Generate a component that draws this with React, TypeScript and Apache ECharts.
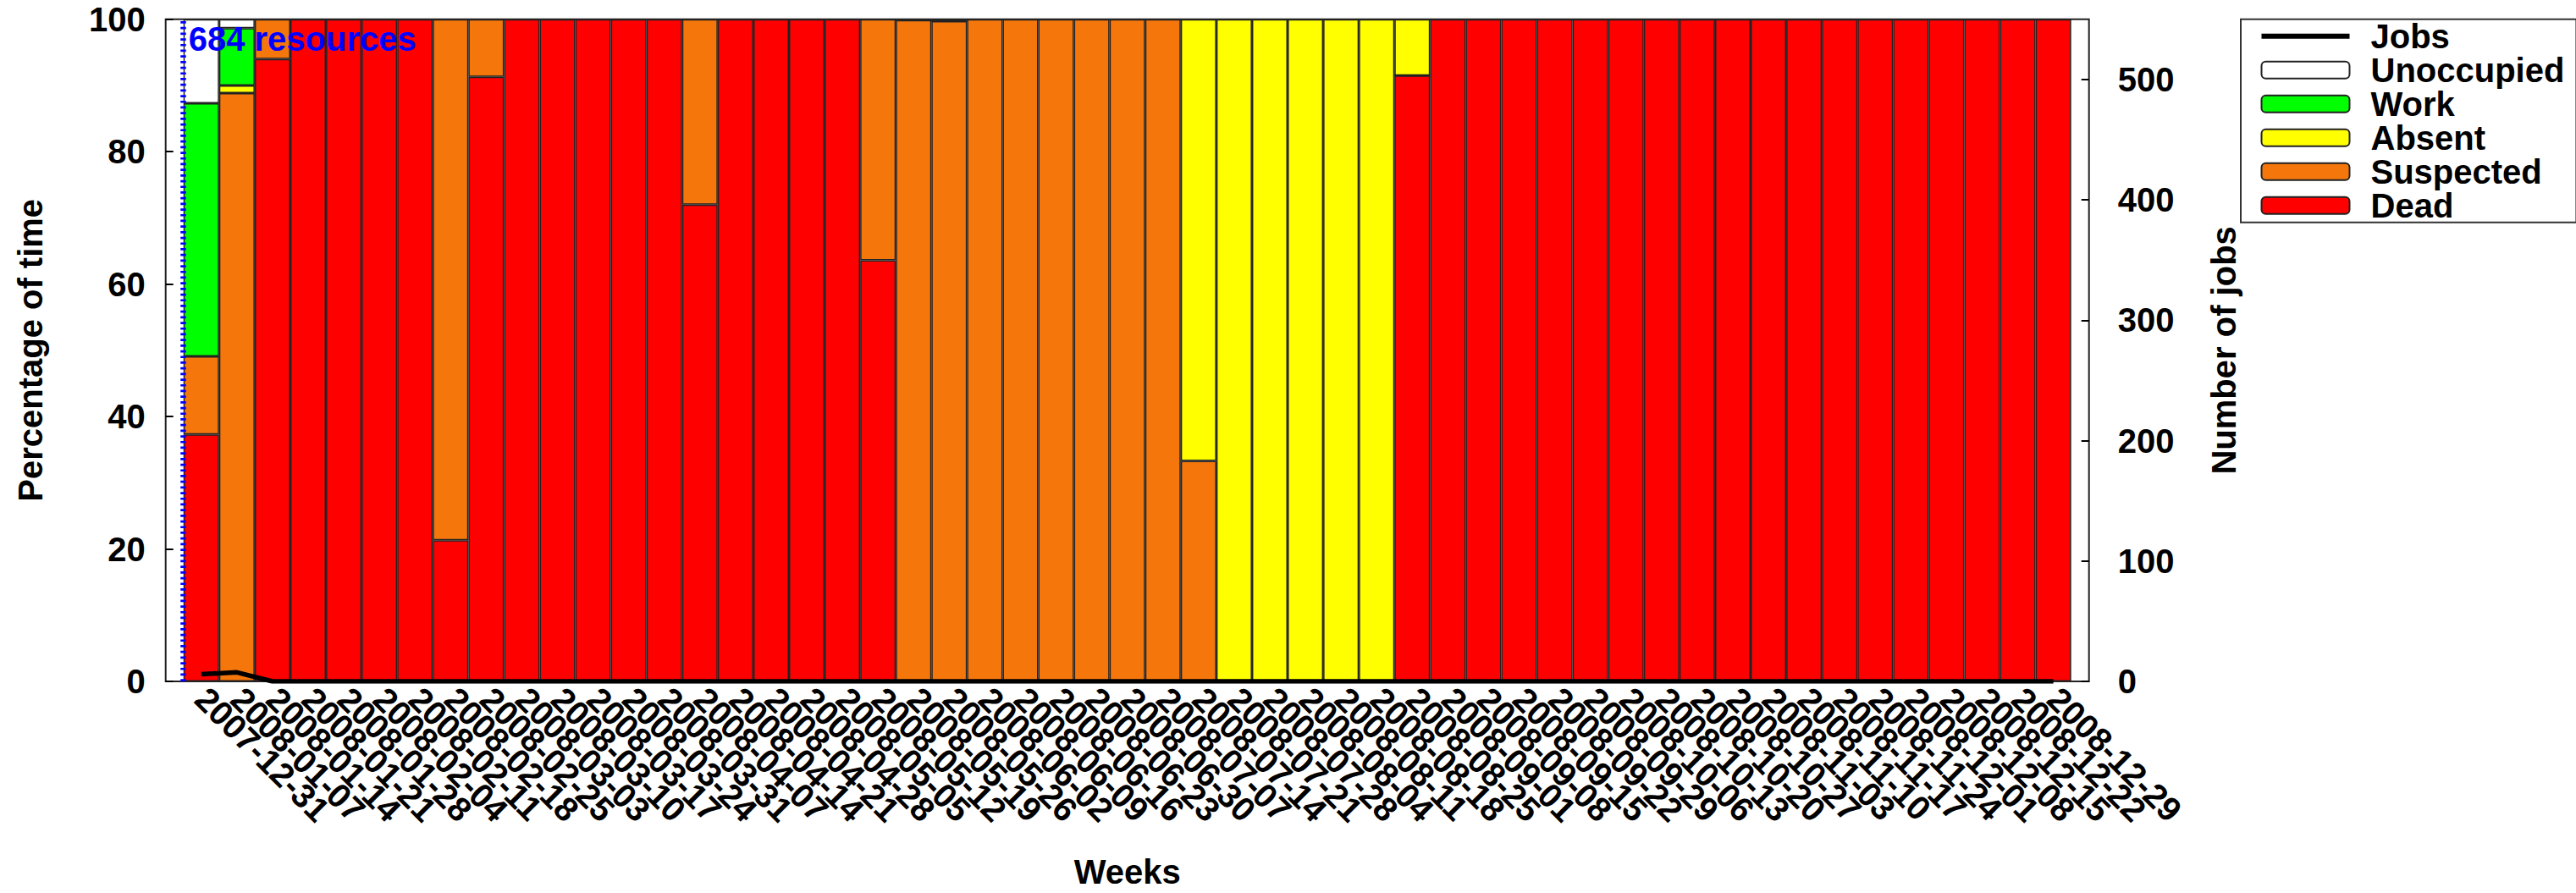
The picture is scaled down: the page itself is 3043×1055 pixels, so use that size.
import React, { useEffect, useRef } from 'react';
import * as echarts from 'echarts';

const weeks = [
  '2007-12-31', '2008-01-07', '2008-01-14', '2008-01-21', '2008-01-28', '2008-02-04', '2008-02-11',
  '2008-02-18', '2008-02-25', '2008-03-03', '2008-03-10', '2008-03-17', '2008-03-24', '2008-03-31',
  '2008-04-07', '2008-04-14', '2008-04-21', '2008-04-28', '2008-05-05', '2008-05-12', '2008-05-19',
  '2008-05-26', '2008-06-02', '2008-06-09', '2008-06-16', '2008-06-23', '2008-06-30', '2008-07-07',
  '2008-07-14', '2008-07-21', '2008-07-28', '2008-08-04', '2008-08-11', '2008-08-18', '2008-08-25',
  '2008-09-01', '2008-09-08', '2008-09-15', '2008-09-22', '2008-09-29', '2008-10-06', '2008-10-13',
  '2008-10-20', '2008-10-27', '2008-11-03', '2008-11-10', '2008-11-17', '2008-11-24', '2008-12-01',
  '2008-12-08', '2008-12-15', '2008-12-22', '2008-12-29',
];

const dead = [
  37.3, 0, 94.0, 100, 100, 100, 100, 21.3, 91.3, 100, 100, 100, 100, 100,
  72.0, 100, 100, 100, 100, 63.6, 0, 0, 0, 0, 0, 0, 0, 0,
  0, 0, 0, 0, 0, 0, 91.5, 100, 100, 100, 100, 100, 100, 100,
  100, 100, 100, 100, 100, 100, 100, 100, 100, 100, 100,
];

const suspected = [
  11.8, 88.85, 6.0, 0, 0, 0, 0, 78.7, 8.7, 0, 0, 0, 0, 0,
  28.0, 0, 0, 0, 0, 36.4, 99.85, 99.7, 100, 100, 100, 100, 100, 100,
  33.3, 0, 0, 0, 0, 0, 0, 0, 0, 0, 0, 0, 0, 0,
  0, 0, 0, 0, 0, 0, 0, 0, 0, 0, 0,
];

const absent = [
  0, 1.15, 0, 0, 0, 0, 0, 0, 0, 0, 0, 0, 0, 0,
  0, 0, 0, 0, 0, 0, 0, 0, 0, 0, 0, 0, 0, 0,
  66.7, 100, 100, 100, 100, 100, 8.5, 0, 0, 0, 0, 0, 0, 0,
  0, 0, 0, 0, 0, 0, 0, 0, 0, 0, 0,
];

const work = [
  38.2, 8.64, 0, 0, 0, 0, 0, 0, 0, 0, 0, 0, 0, 0,
  0, 0, 0, 0, 0, 0, 0, 0, 0, 0, 0, 0, 0, 0,
  0, 0, 0, 0, 0, 0, 0, 0, 0, 0, 0, 0, 0, 0,
  0, 0, 0, 0, 0, 0, 0, 0, 0, 0, 0,
];

const unoccupied = [
  12.7, 1.36, 0, 0, 0, 0, 0, 0, 0, 0, 0, 0, 0, 0,
  0, 0, 0, 0, 0, 0, 0.15, 0.3, 0, 0, 0, 0, 0, 0,
  0, 0, 0, 0, 0, 0, 0, 0, 0, 0, 0, 0, 0, 0,
  0, 0, 0, 0, 0, 0, 0, 0, 0, 0, 0,
];

const jobs = [
  6, 7.5, 0, 0, 0, 0, 0, 0, 0, 0, 0, 0, 0, 0,
  0, 0, 0, 0, 0, 0, 0, 0, 0, 0, 0, 0, 0, 0,
  0, 0, 0, 0, 0, 0, 0, 0, 0, 0, 0, 0, 0, 0,
  0, 0, 0, 0, 0, 0, 0, 0, 0, 0, 0,
];

const leftTicks = { min: 0, max: 100, interval: 20 };
const rightTicks = { min: 0, max: 550, interval: 100, lastLabel: 500 };
const resourcesLabel = '684 resources';

const FONT = "'Liberation Sans', Arial, Helvetica, sans-serif";

// layout (pixels)
const FRAME = { left: 195.7, right: 575.3, top: 22.7, bottom: 250 };
const W = 3043;
const UNIT = (W - FRAME.left - FRAME.right) / (weeks.length + 1);

export default function App() {
  const ref = useRef<HTMLDivElement>(null);

  useEffect(() => {
    if (!ref.current) return;
    const chart = echarts.init(ref.current, null, { renderer: 'svg' });
    const bar = (name: string, data: number[], color: string) => ({
      name,
      type: 'bar',
      stack: 'total',
      barWidth: '100%',
      xAxisIndex: 1,
      yAxisIndex: 2,
      data,
      itemStyle: { color, borderColor: '#222', borderWidth: 1.5 },
      emphasis: { disabled: true },
      z: 2,
    });
    const boldText = { fontFamily: FONT, fontSize: 40, fontWeight: 'bold', color: '#000' };
    const hiddenY = {
      axisLine: { show: false },
      axisTick: { show: false },
      axisLabel: { show: false },
      splitLine: { show: false },
    };

    chart.setOption({
      animation: false,
      backgroundColor: '#fff',
      grid: [
        {
          ...FRAME,
          show: true,
          borderColor: '#222',
          borderWidth: 2,
          backgroundColor: 'transparent',
        },
        {
          left: FRAME.left + UNIT / 2,
          right: FRAME.right + UNIT / 2,
          top: FRAME.top,
          bottom: FRAME.bottom,
        },
      ],
      legend: {
        orient: 'vertical',
        left: 2647,
        top: 22.7,
        padding: [0, 14, 0, 23.5],
        itemGap: 0,
        itemWidth: 104,
        itemHeight: 20,
        borderColor: '#333',
        borderWidth: 2,
        backgroundColor: '#fff',
        selectedMode: false,
        textStyle: { ...boldText, lineHeight: 40, padding: [0, 0, 0, 20] },
        data: [
          {
            name: 'Jobs',
            icon: 'path://M0,7H104V13H0Z M0,0 M104,20',
            itemStyle: { color: '#000', borderWidth: 0 },
          },
          { name: 'Unoccupied' },
          { name: 'Work' },
          { name: 'Absent' },
          { name: 'Suspected' },
          { name: 'Dead' },
        ],
      },
      xAxis: [
        {
          gridIndex: 0,
          type: 'value',
          min: 0,
          max: 1,
          show: false,
        },
        {
          gridIndex: 1,
          type: 'category',
          data: weeks,
          boundaryGap: true,
          name: 'Weeks',
          nameLocation: 'middle',
          nameGap: 205,
          nameTextStyle: boldText,
          axisLine: { show: false },
          axisTick: { show: false },
          splitLine: { show: false },
          axisLabel: {
            interval: 0,
            rotate: -45,
            margin: 14,
            fontFamily: FONT,
            fontSize: 40,
            fontWeight: 'bold',
            color: '#000',
          },
        },
      ],
      yAxis: [
        {
          gridIndex: 0,
          type: 'value',
          position: 'left',
          min: leftTicks.min,
          max: leftTicks.max,
          interval: leftTicks.interval,
          name: 'Percentage of time',
          nameLocation: 'middle',
          nameRotate: 90,
          nameGap: 140,
          nameTextStyle: boldText,
          axisLine: { show: false },
          axisTick: { show: true, inside: true, length: 9, lineStyle: { color: '#000', width: 2 } },
          splitLine: { show: false },
          axisLabel: { ...boldText, margin: 24 },
        },
        {
          gridIndex: 0,
          type: 'value',
          position: 'right',
          min: rightTicks.min,
          max: rightTicks.max,
          interval: rightTicks.interval,
          name: 'Number of jobs',
          nameLocation: 'middle',
          nameRotate: 90,
          nameGap: 139,
          nameTextStyle: boldText,
          axisLine: { show: false },
          axisTick: { show: true, inside: true, length: 9, lineStyle: { color: '#000', width: 2 } },
          splitLine: { show: false },
          axisLabel: {
            ...boldText,
            margin: 34,
            showMaxLabel: false,
            formatter: (v: number) => (v > rightTicks.lastLabel ? '' : String(v)),
          },
        },
        {
          gridIndex: 1,
          type: 'value',
          position: 'left',
          min: leftTicks.min,
          max: leftTicks.max,
          interval: leftTicks.interval,
          z: 50,
          ...hiddenY,
          axisLine: { show: true, lineStyle: { color: '#0000ff', width: 6.5, type: [2.7, 4], cap: 'butt' } },
        },
        {
          gridIndex: 1,
          type: 'value',
          position: 'right',
          min: rightTicks.min,
          max: rightTicks.max,
          interval: rightTicks.interval,
          ...hiddenY,
        },
      ],
      graphic: [
        {
          type: 'text',
          x: 222.7,
          y: 45.8,
          z: 100,
          style: {
            text: resourcesLabel,
            fill: '#0000ff',
            fontFamily: FONT,
            fontSize: 40,
            fontWeight: 'bold',
            verticalAlign: 'middle',
            align: 'left',
          },
        },
      ],
      series: [
        bar('Dead', dead, '#ff0000'),
        bar('Suspected', suspected, '#f5770c'),
        bar('Absent', absent, '#ffff00'),
        bar('Work', work, '#00ff00'),
        bar('Unoccupied', unoccupied, '#ffffff'),
        {
          name: 'Jobs',
          type: 'line',
          xAxisIndex: 1,
          yAxisIndex: 3,
          data: jobs,
          symbol: 'none',
          lineStyle: { color: '#000', width: 5.5 },
          itemStyle: { color: '#000' },
          z: 10,
        },
      ],
    });
    return () => chart.dispose();
  }, []);

  return (
    <div
      ref={ref}
      style={{ position: 'absolute', left: 0, top: 0, width: W, height: 1055, background: '#fff' }}
    />
  );
}
